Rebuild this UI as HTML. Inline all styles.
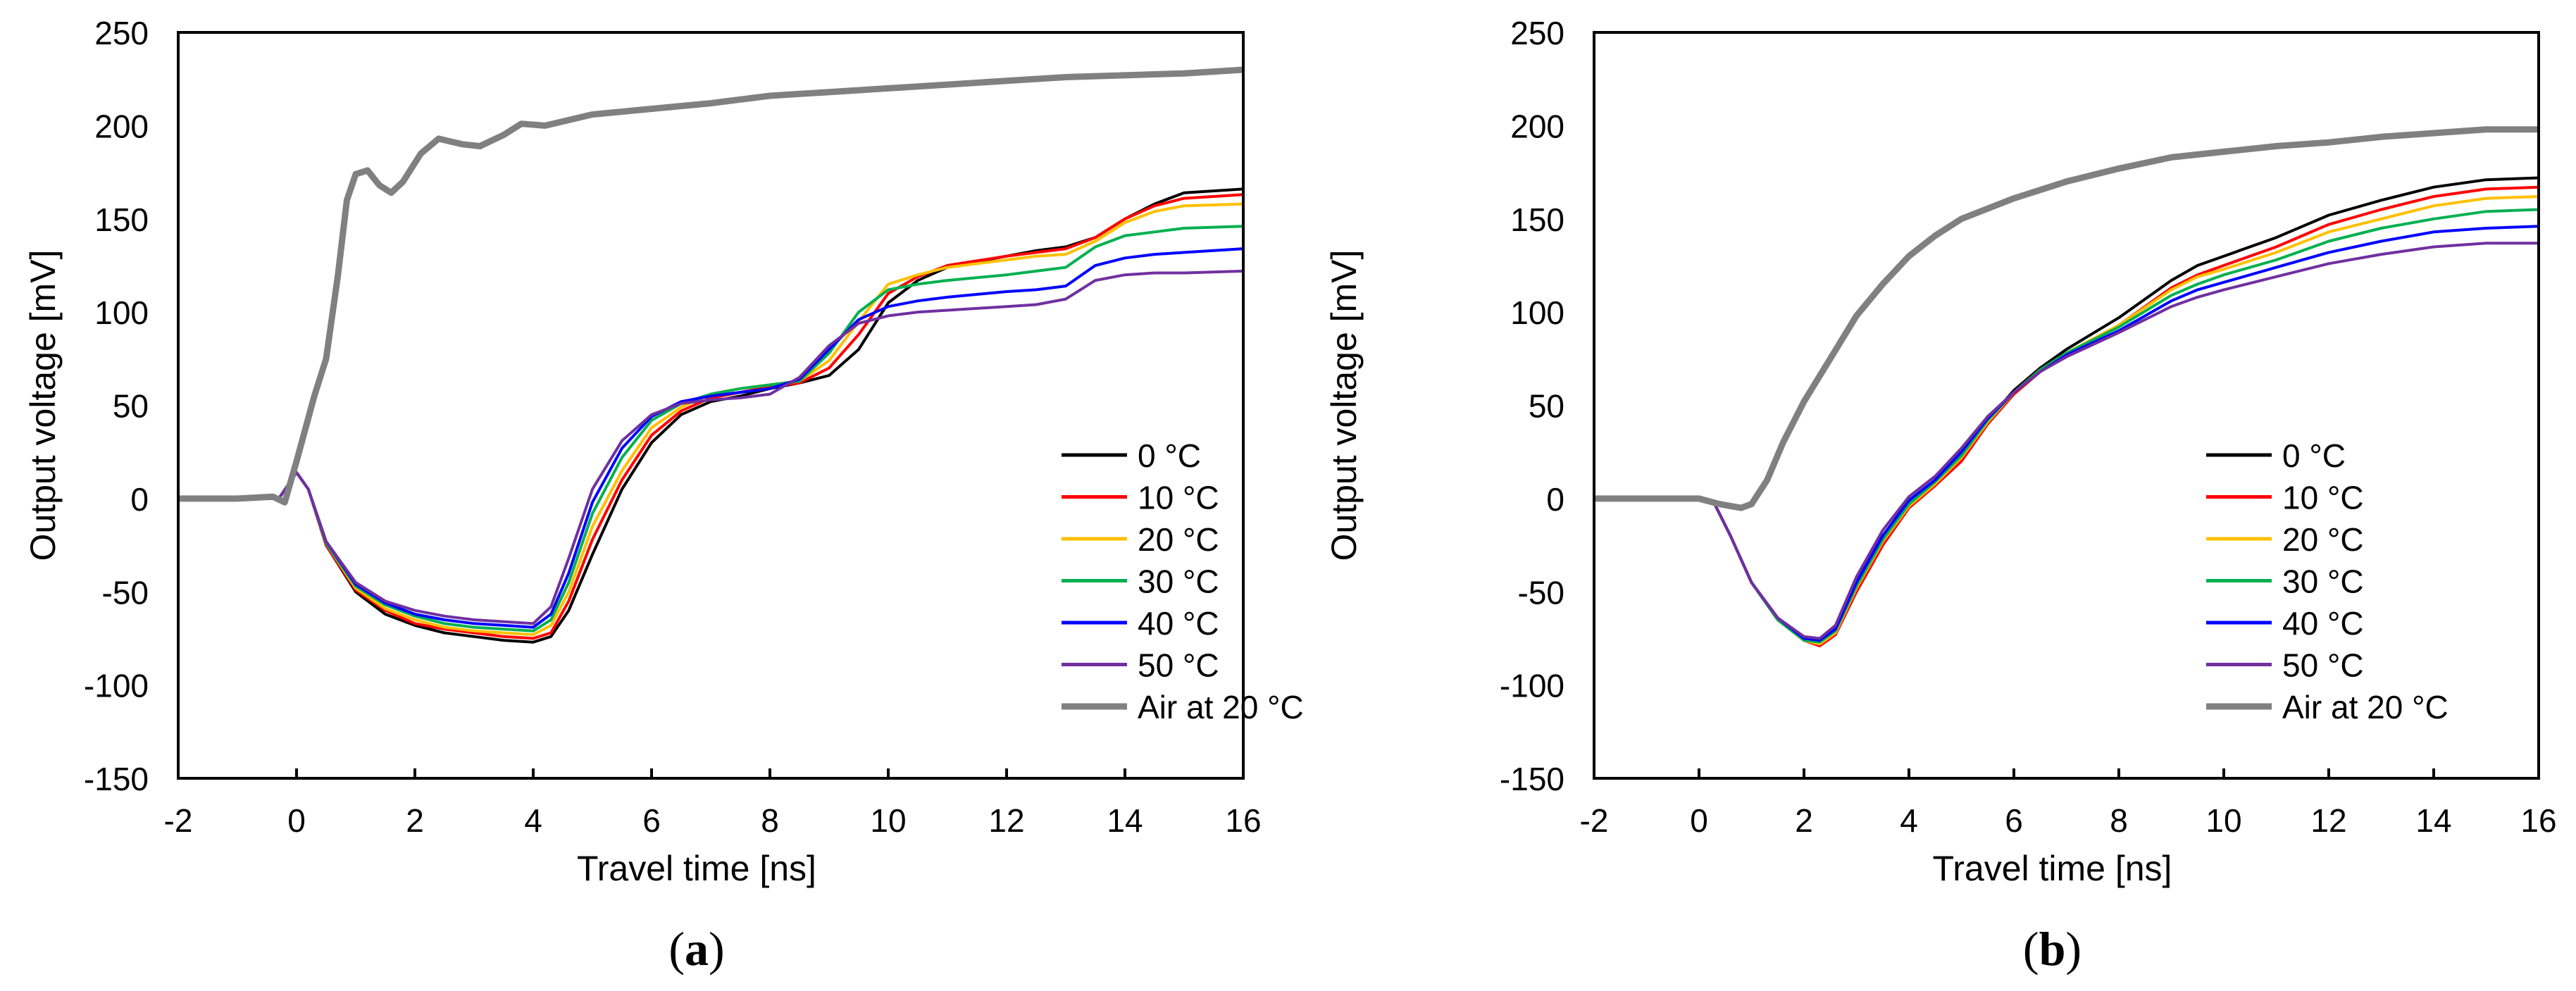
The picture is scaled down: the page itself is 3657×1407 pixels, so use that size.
<!DOCTYPE html>
<html><head><meta charset="utf-8"><style>
html,body{margin:0;padding:0;background:#fff;}
svg{display:block;font-family:"Liberation Sans",Arial,sans-serif;}
</style></head><body>
<svg id="s" width="3657" height="1407" viewBox="0 0 3657 1407" xmlns="http://www.w3.org/2000/svg"></svg>
<script>
const xTicks=[-2,0,2,4,6,8,10,12,14,16];
const yTicks=[-150,-100,-50,0,50,100,150,200,250];
const seriesNames=["0 °C","10 °C","20 °C","30 °C","40 °C","50 °C","Air at 20 °C"];
const seriesColors=["#000000","#ff0000","#ffc000","#00b050","#0000ff","#7030a0","#808080"];
const xA=[-2,-0.3,0,0.2,0.5,1,1.5,2,2.5,3,3.5,4,4.3,4.6,5,5.5,6,6.5,7,7.5,8,8.5,9,9.5,10,10.5,11,12,12.5,13,13.5,14,14.5,15,16];
const a0=[0,0,14,5,-25,-50,-62,-68,-72,-74,-76,-77,-74,-60,-30,5,30,45,52,55,59,62,66,80,105,117,124,130,133,135,140,150,158,164,166];
const a10=[0,0,14,5,-25,-49,-60,-67,-70,-72,-74,-75,-72,-55,-22,10,34,47,54,57,60,62,70,88,110,119,125,130,132,134,140,150,157,161,163];
const a20=[0,0,14,5,-24,-48,-59,-65,-69,-71,-72,-73,-68,-50,-15,15,38,49,56,59,61,63,74,95,115,120,124,128,130,131,138,148,154,157,158];
const a30=[0,0,14,5,-24,-47,-57,-63,-67,-69,-70,-71,-65,-45,-8,22,42,51,56,59,61,63,78,100,112,115,117,120,122,124,135,141,143,145,146];
const a40=[0,0,14,5,-23,-46,-56,-62,-65,-67,-68,-69,-62,-40,-2,27,44,52,55,57,59,64,80,96,103,106,108,111,112,114,125,129,131,132,134];
const a50=[0,0,14,5,-23,-45,-55,-60,-63,-65,-66,-67,-58,-32,5,31,45,51,53,54,56,65,82,94,98,100,101,103,104,107,117,120,121,121,122];
const xAirA=[-2,-1,-0.4,-0.2,0,0.3,0.5,0.7,0.85,1,1.2,1.4,1.6,1.8,2.1,2.4,2.8,3.1,3.5,3.8,4.2,5,6,7,8,9,10,11,12,13,14,15,16];
const airA=[0,0,1,-2,20,55,75,120,160,174,176,168,164,170,185,193,190,189,195,201,200,206,209,212,216,218,220,222,224,226,227,228,230];
const xB=[-2,0,0.3,0.6,1,1.5,2,2.3,2.6,3,3.5,4,4.5,5,5.5,6,6.5,7,8,9,9.5,10,11,12,13,14,15,16];
const b0=[0,0,-3,-20,-45,-65,-76,-78,-70,-45,-20,-2,10,25,42,58,70,80,97,117,125,130,140,152,160,167,171,172];
const b10=[0,0,-3,-20,-45,-65,-76,-79,-73,-50,-25,-5,7,20,40,56,68,77,93,113,120,125,135,147,155,162,166,167];
const b20=[0,0,-3,-20,-45,-65,-76,-78,-72,-48,-23,-4,8,22,41,57,69,78,93,112,119,123,132,143,150,157,161,162];
const b30=[0,0,-3,-20,-45,-65,-76,-77,-71,-47,-22,-3,9,23,42,57,69,78,92,109,115,120,128,138,145,150,154,155];
const b40=[0,0,-3,-20,-45,-64,-75,-76,-70,-45,-20,-1,10,25,43,57,68,77,90,106,112,116,124,132,138,143,145,146];
const b50=[0,0,-3,-20,-45,-64,-74,-75,-68,-42,-17,1,12,27,44,57,68,76,89,103,108,112,119,126,131,135,137,137];
const xAirB=[-2,-0.2,0,0.4,0.8,1,1.3,1.6,2,2.5,3,3.5,4,4.5,5,6,7,8,9,10,11,12,13,14,15,16];
const airB=[0,0,0,-3,-5,-3,10,30,52,75,98,115,130,141,150,161,170,177,183,186,189,191,194,196,198,198];

const NS="http://www.w3.org/2000/svg";
const svg=document.getElementById('s');
function mk(tag,attrs,parent){const e=document.createElementNS(NS,tag);for(const k in attrs)e.setAttribute(k,attrs[k]);(parent||svg).appendChild(e);return e;}

function panel(p){
  const g=mk('g',{});
  
  
  const sx=v=>p.x0+(v+2)/18*(p.x1-p.x0);
  const sy=v=>p.y0+(250-v)/400*(p.y1-p.y0);
  p.series.forEach((s,i)=>{
    const d=s.y.map((v,j)=>(j?'L':'M')+sx(s.x[j]).toFixed(1)+' '+sy(v).toFixed(1)).join(' ');
    const path=mk('path',{d:d,fill:'none',stroke:seriesColors[i],'stroke-width':i==6?9:4,'stroke-linejoin':'round'},g);
    
    
  });
  const fr=mk('rect',{x:p.x0,y:p.y0,width:p.x1-p.x0,height:p.y1-p.y0,fill:'none',stroke:'#000','stroke-width':4},g);
  
  
  xTicks.forEach(t=>{
    const X=sx(t);
    const tk=mk('line',{x1:X,x2:X,y1:p.y1,y2:p.y1-14,stroke:'#000','stroke-width':4},g);
    
    
    const tx=mk('text',{x:X,y:p.y1+76,'font-size':46,'text-anchor':'middle'},g);
    tx.textContent=t;
    
    
  });
  yTicks.forEach(t=>{
    const Y=sy(t);
    const ty=mk('text',{x:p.x0-42,y:Y+17,'font-size':46,'text-anchor':'end'},g);
    ty.textContent=t;
    
    
  });
  const xt=mk('text',{x:(p.x0+p.x1)/2-20,y:1250,'font-size':50,'text-anchor':'middle'},g);
  xt.textContent='Travel  time [ns]';
  
  
  const yt=mk('text',{x:0,y:0,'font-size':50,'text-anchor':'middle',transform:`translate(${p.ytx},${(p.y0+p.y1)/2}) rotate(-90)`},g);
  yt.textContent='Output  voltage  [mV]';
  
  
  const lb=mk('text',{x:(p.x0+p.x1)/2-20,y:1370,'font-size':68,'text-anchor':'middle','font-family':'"Liberation Serif",serif'},g);
  lb.innerHTML='(<tspan font-weight="bold">'+p.label+'</tspan>)';
  
  
  seriesNames.forEach((n,i)=>{
    const Y=646+i*59.5;
    const ln=mk('line',{x1:p.lx,x2:p.lx+93,y1:Y,y2:Y,stroke:seriesColors[i],'stroke-width':i==6?9:5},g);
    
    
    const t=mk('text',{x:p.lx+108,y:Y+17,'font-size':46},g);
    t.textContent=n;
    
    
  });
}
panel({name:'chart-a',label:'a',x0:253,x1:1765,y0:46,y1:1105,ytx:78,lx:1507,
  series:[{x:xA,y:a0},{x:xA,y:a10},{x:xA,y:a20},{x:xA,y:a30},{x:xA,y:a40},{x:xA,y:a50},{x:xAirA,y:airA}]});
panel({name:'chart-b',label:'b',x0:2263,x1:3604,y0:46,y1:1105,ytx:1925,lx:3132,
  series:[{x:xB,y:b0},{x:xB,y:b10},{x:xB,y:b20},{x:xB,y:b30},{x:xB,y:b40},{x:xB,y:b50},{x:xAirB,y:airB}]});
</script>
</body></html>
